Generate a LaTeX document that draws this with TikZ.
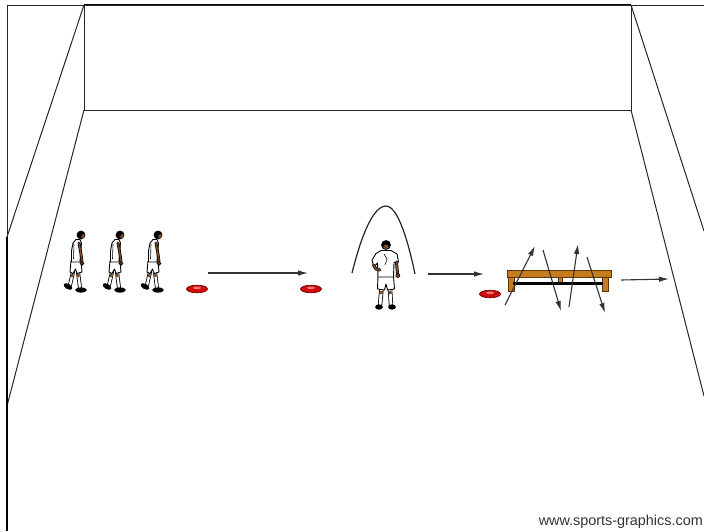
\documentclass[tikz,border=0pt]{standalone}
\usepackage{fontspec}
\setmainfont{Liberation Sans}
\usetikzlibrary{arrows.meta}

\definecolor{skin}{HTML}{7A4A26}
\definecolor{wood}{HTML}{C47C1C}
\definecolor{wooddark}{HTML}{5E3608}
\definecolor{conered}{HTML}{D00D0D}
\definecolor{conedark}{HTML}{6E0000}

\tikzset{
  wall/.style={draw=black!85, line width=1pt},
  runarrow/.style={draw=black!80, line width=1.1pt, -{Latex[length=10pt,width=5.5pt]}},
  outline/.style={draw=black, line width=0.9pt, line join=round},
  % side-view walking player, origin at the head
  walker/.pic={
    % back leg and shoe
    \draw[line width=4pt, black, line cap=round] (-8,37) -- (-11,50);
    \draw[line width=2.4pt, white, line cap=round] (-8,37) -- (-11,50);
    \draw[line width=2.4pt, skin] (-8.4,39) -- (-9.2,42);
    \fill[black, rotate around={-30:(-13,51.5)}] (-13,51.5) ellipse (4.8 and 2.6);
    % front leg and shoe
    \draw[line width=4pt, black, line cap=round] (-3,37) -- (-1,53);
    \draw[line width=2.4pt, white, line cap=round] (-3,37) -- (-1,53);
    \draw[line width=2.4pt, skin] (-2.8,39) -- (-2.4,42);
    \fill[black] (0,55) ellipse (5.8 and 2.6);
    % shorts
    \filldraw[fill=white, outline] (-10,26) -- (0,26) -- (1,37) -- (-4,38.5)
      -- (-5.5,34) -- (-8,38.5) -- (-11,37) -- cycle;
    % shirt
    \filldraw[fill=white, outline] (-5,4.5) -- (-1,4.5) -- (0.5,8) -- (-0.5,19)
      -- (-1,27) -- (-9.5,27) -- (-9.5,16) -- (-8,8) -- cycle;
    \draw[black, line width=0.6pt] (-7,9) -- (-7.5,24);
    % arm
    \draw[line width=2.9pt, black, line cap=round] (-2,8) -- (0,19) -- (1,27);
    \draw[line width=1.5pt, skin, line cap=round] (-2,8) -- (0,19) -- (1,27);
    \filldraw[fill=skin, draw=black, line width=0.6pt] (1,28.5) circle (1.9);
    % head: dark hair with the face in front
    \fill[black] (0,0) circle (4.4);
    \begin{scope}
      \clip (0,0) circle (3.8);
      \fill[skin] (2.6,1.6) circle (2.4);
    \end{scope}
  },
  % front-view player, origin at the head
  facer/.pic={
    % legs and shoes
    \foreach \lx/\fx in {-4.5/-6, 4/5}{
      \draw[line width=4.4pt, black, line cap=round] (\lx,44) -- (\fx,60);
      \draw[line width=2.8pt, white, line cap=round] (\lx,44) -- (\fx,60);
      \draw[line width=2.8pt, skin] (\lx*1.02,46) -- (\lx*1.05,49);
    }
    \fill[black] (-7,62) ellipse (3.9 and 2.7);
    \fill[black] (6,62) ellipse (3.9 and 2.7);
    % shorts
    \filldraw[fill=white, outline] (-8,31) -- (7.5,31) -- (8.5,44) -- (1.5,45)
      -- (0,39) -- (-1.5,45) -- (-8.5,44) -- cycle;
    % shirt with sleeves
    \filldraw[fill=white, outline] (-5,5.5) -- (5,5.5) -- (11,9) -- (12.5,17)
      -- (8,17.5) -- (7.5,32) -- (-8,32) -- (-8.5,18) -- (-12,22) -- (-14,15)
      -- (-10,8.5) -- cycle;
    \draw[black, line width=0.6pt] (-2,9) -- (1,14) -- (-1,20);
    % bent arm
    \draw[line width=3pt, black, line cap=round] (-12.5,20) -- (-10,24) -- (-6,25);
    \draw[line width=1.7pt, skin, line cap=round] (-12.5,20) -- (-10,24) -- (-6,25);
    % hanging arm
    \draw[line width=3pt, black, line cap=round] (10.5,17) -- (11.5,29);
    \draw[line width=1.7pt, skin, line cap=round] (10.5,17) -- (11.5,29);
    \filldraw[fill=skin, draw=black, line width=0.6pt] (11.8,30.5) circle (2);
    % head: dark hair round the face
    \fill[black] (0,0) circle (4.9);
    \begin{scope}
      \clip (0,0) circle (4.1);
      \fill[skin] (0,2.6) ellipse (2.9 and 3.2);
    \end{scope}
  },
  % flat marker cone
  cone/.pic={
    \filldraw[fill=conered, draw=conedark, line width=0.7pt] (0,0) ellipse (10.5 and 3.8);
    \fill[red!55!white] (0,-1.2) ellipse (4 and 1.3);
  }
}

\begin{document}
\begin{tikzpicture}[x=1pt,y=-1pt]
  \useasboundingbox (0,0) rectangle (704,531);
  \fill[white] (0,0) rectangle (704,531);

  % hall outline
  \coordinate (tl) at (84,5);
  \coordinate (tr) at (631,5);
  \coordinate (bl) at (84,110);
  \coordinate (br) at (631,110);
  \draw[wall] (7,5) -- (704,5);
  \draw[draw=black, line width=1.7pt] (tl) -- (tr);
  \draw[wall] (tl) rectangle (br);
  \draw[wall] (tl) -- (7,237);
  \draw[wall] (bl) -- (7,406);
  \draw[wall] (tr) -- (704,231);
  \draw[wall] (br) -- (704,396);
  \draw[wall] (7,5) -- (7,237);
  \draw[draw=black, line width=1.9pt] (7,237) -- (7,531);

  % waiting players
  \pic (p1) at (81,235) {walker};
  \pic (p2) at (120,235) {walker};
  \pic (p3) at (158,235) {walker};

  % cones
  \pic (c1) at (197,289) {cone};
  \pic (c2) at (311,289) {cone};
  \pic (c3) at (490,294) {cone};

  % run to the second cone
  \coordinate (a1s) at (208,273);
  \coordinate (a1e) at (308,273);
  \draw[runarrow] (a1s) -- (a1e);

  % jump over the partner
  \coordinate (j1) at (352,273);
  \coordinate (j2) at (386,206);
  \coordinate (j3) at (415,274);
  \draw[draw=black!85, line width=1.2pt] (j1) parabola bend (j2) (j3);
  \pic (partner) at (386,245) {facer};

  % run to the third cone
  \coordinate (a2s) at (428,274);
  \coordinate (a2e) at (484,274);
  \draw[runarrow] (a2s) -- (a2e);

  % bench
  \filldraw[fill=wood, draw=wooddark, line width=0.6pt] (508,277) rectangle (514,291);
  \filldraw[fill=wood, draw=wooddark, line width=0.6pt] (602,277) rectangle (608,291);
  \filldraw[fill=wood, draw=wooddark, line width=0.6pt] (558,277) rectangle (562,284);
  \fill[black] (513,281.5) rectangle (603,284.5);
  \filldraw[fill=wood, draw=wooddark, line width=0.7pt] (507,270.5) rectangle (611,277);

  % zig-zag over the bench
  \coordinate (b1s) at (505,305);
  \coordinate (b1e) at (535,246);
  \coordinate (b2s) at (543,250);
  \coordinate (b2e) at (561,311);
  \coordinate (b3s) at (569,307);
  \coordinate (b3e) at (578,244);
  \coordinate (b4s) at (587,257);
  \coordinate (b4e) at (605,313);
  \draw[runarrow] (b1s) -- (b1e);
  \draw[runarrow] (b2s) -- (b2e);
  \draw[runarrow] (b3s) -- (b3e);
  \draw[runarrow] (b4s) -- (b4e);

  % exit run
  \coordinate (a3s) at (621,280);
  \coordinate (a3e) at (669,279);
  \draw[runarrow] (a3s) -- (a3e);

  \node[anchor=base east, text=black!80, font=\fontsize{14.4}{17}\selectfont, inner sep=0pt]
    (credit) at (703,525) {www.sports-graphics.com};
\end{tikzpicture}
\end{document}
